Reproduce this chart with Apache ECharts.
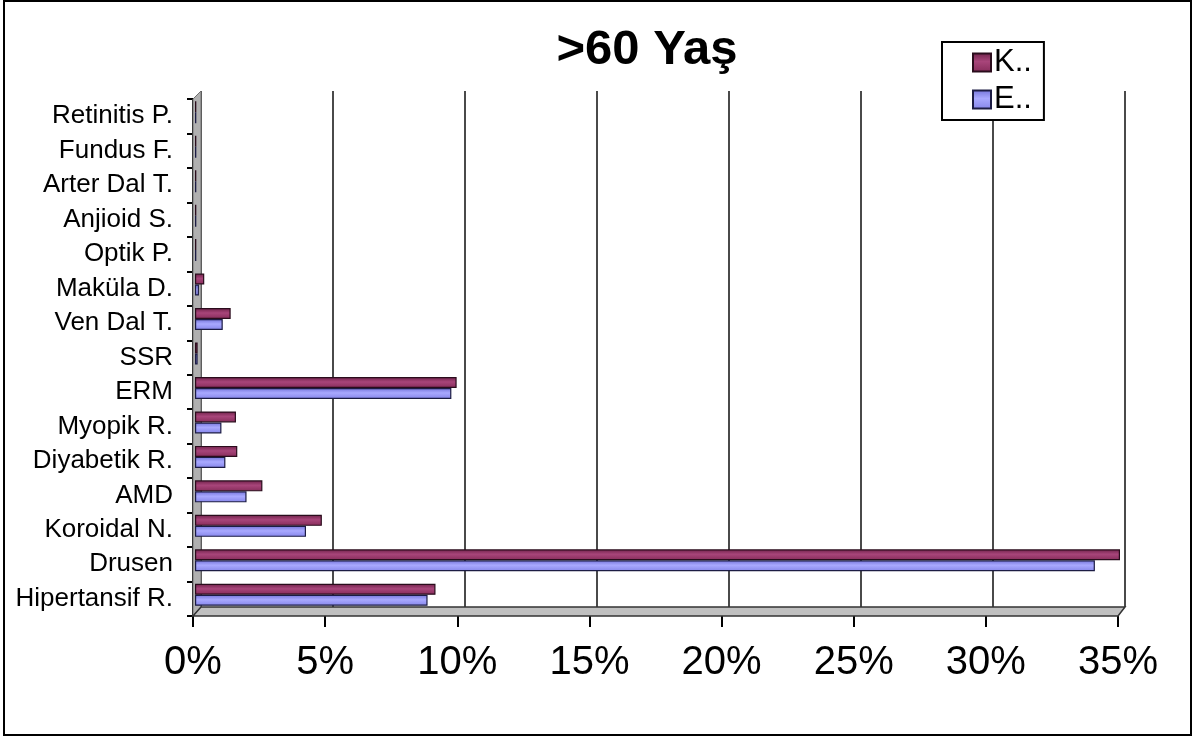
<!DOCTYPE html>
<html>
<head>
<meta charset="utf-8">
<title>>60 Yaş</title>
<script src="https://cdn.jsdelivr.net/npm/echarts@6/dist/echarts.min.js"></script>
<style>
  html, body { margin: 0; padding: 0; background: #fff; }
  #chart { width: 1194px; height: 738px; }
</style>
</head>
<body>
<div id="chart"></div>
<script>
// Diagnoses, listed bottom to top
const categories = ['Hipertansif R.', 'Drusen', 'Koroidal N.', 'AMD', 'Diyabetik R.', 'Myopik R.', 'ERM', 'SSR', 'Ven Dal T.', 'Maküla D.', 'Optik P.', 'Anjioid S.', 'Arter Dal T.', 'Fundus F.', 'Retinitis P.'];
// Percentages per group
const valuesK = [9.1, 35.0, 4.8, 2.55, 1.6, 1.55, 9.9, 0.1, 1.35, 0.35, 0.05, 0.05, 0.05, 0.05, 0.05];
const valuesE = [8.8, 34.05, 4.2, 1.95, 1.15, 1.0, 9.7, 0.1, 1.05, 0.15, 0.05, 0.05, 0.05, 0.05, 0.05];
const seriesNames = ['K..', 'E..'];
const titleText = '>60 Yaş';
const axisMax = 35;
const axisStep = 5;

const FONT = '"Liberation Sans", Arial, sans-serif';

// front frame (labels, ticks), back wall (gridlines), bar plane
const front = { left: 193, top: 99, width: 925, height: 517 };
const back = { left: 201, top: 91, width: 924, height: 516 };
const bars = { left: 195, top: 95, width: 925, height: 517 };

const chart = echarts.init(document.getElementById('chart'), null, { renderer: 'canvas' });

function cylinder(dark, mid, light) {
  return new echarts.graphic.LinearGradient(0, 0, 0, 1, [
    { offset: 0, color: dark },
    { offset: 0.45, color: light },
    { offset: 1, color: mid }
  ]);
}

const option = {
  backgroundColor: '#fff',
  animation: false,
  title: {
    text: titleText,
    left: 642,
    textAlign: 'center',
    top: 21,
    textStyle: { fontFamily: FONT, fontSize: 49, fontWeight: 'bold', color: '#000' }
  },
  legend: {
    data: seriesNames,
    orient: 'vertical',
    left: 942,
    top: 42,
    icon: 'rect',
    itemWidth: 18,
    itemHeight: 18,
    itemGap: 6,
    padding: [5, 12, 5, 30],
    borderColor: '#000',
    borderWidth: 2,
    backgroundColor: '#fff',
    textStyle: { fontFamily: FONT, fontSize: 31, color: '#000', padding: [0, 0, 0, -2] },
    z: 10
  },
  grid: [
    Object.assign({ containLabel: false }, front),
    Object.assign({ containLabel: false }, back),
    Object.assign({ containLabel: false }, bars)
  ],
  xAxis: [
    {
      gridIndex: 0, type: 'value', min: 0, max: axisMax, interval: axisStep,
      axisLine: { show: false },
      axisTick: { show: true, length: 11, lineStyle: { color: '#000', width: 2 } },
      splitLine: { show: false },
      axisLabel: { formatter: '{value}%', fontFamily: FONT, fontSize: 40, color: '#000', margin: 27 }
    },
    {
      gridIndex: 1, type: 'value', min: 0, max: axisMax, interval: axisStep,
      axisLine: { show: false }, axisTick: { show: false }, axisLabel: { show: false },
      splitLine: { show: true, lineStyle: { color: '#4a4a4a', width: 2 } }
    },
    {
      gridIndex: 2, type: 'value', min: 0, max: axisMax, interval: axisStep,
      show: false
    }
  ],
  yAxis: [
    {
      gridIndex: 0, type: 'category', data: categories,
      axisLine: { show: true, lineStyle: { color: '#000', width: 2 } },
      axisTick: { show: true, length: 6, lineStyle: { color: '#000', width: 2 } },
      axisLabel: { fontFamily: FONT, fontSize: 26, color: '#000', margin: 20 }
    },
    {
      gridIndex: 1, type: 'category', data: categories, show: false
    },
    {
      gridIndex: 2, type: 'category', data: categories, show: false
    }
  ],
  series: [
    {
      name: seriesNames[0], type: 'bar', xAxisIndex: 2, yAxisIndex: 2,
      data: valuesK, barWidth: 11, barGap: '0%', z: 5,
      itemStyle: { color: cylinder('#6e2149', '#862c5a', '#a8457a'), borderColor: '#2a0c1c', borderWidth: 1.2 }
    },
    {
      name: seriesNames[1], type: 'bar', xAxisIndex: 2, yAxisIndex: 2,
      data: valuesE, barWidth: 11, barGap: '0%', z: 5,
      itemStyle: { color: cylinder('#7373d9', '#8585ea', '#a9a9ff'), borderColor: '#1c1c44', borderWidth: 1.2 }
    }
  ],
  graphic: [
    // outer frame
    { type: 'rect', z: 0, shape: { x: 4, y: 1, width: 1187, height: 734 }, style: { fill: null, stroke: '#000', lineWidth: 2 } },
    // left wall
    { type: 'polygon', z: 1, shape: { points: [[front.left, front.top], [back.left, back.top], [back.left, back.top + back.height], [front.left, front.top + front.height]] },
      style: { fill: '#b0b0b0', stroke: '#707070', lineWidth: 1 } },
    // floor
    { type: 'polygon', z: 1, shape: { points: [[front.left, front.top + front.height], [back.left, back.top + back.height], [back.left + back.width, back.top + back.height], [front.left + front.width, front.top + front.height]] },
      style: { fill: '#c0c0c0', stroke: '#333', lineWidth: 1.5 } }
  ]
};

chart.setOption(option);
</script>
</body>
</html>
